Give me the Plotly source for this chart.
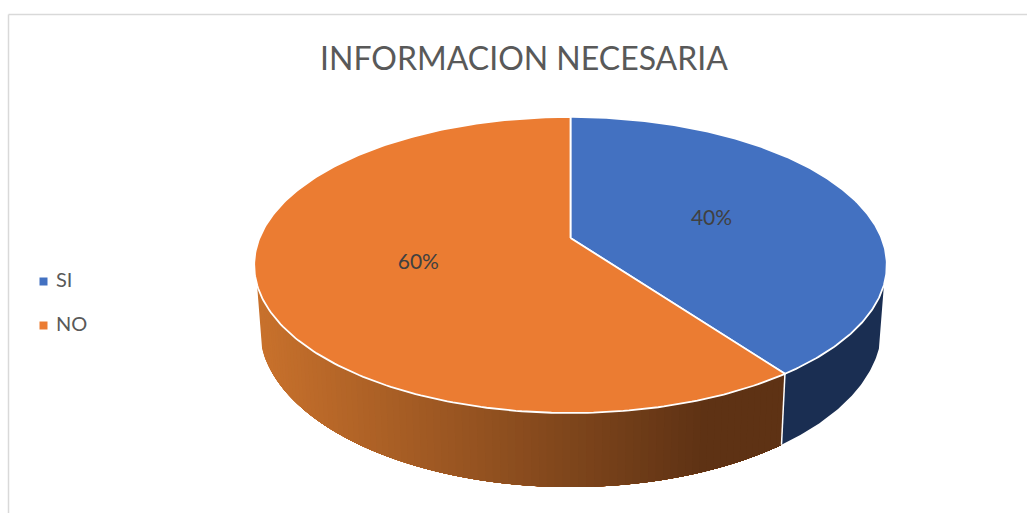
import numpy as np
import plotly.graph_objects as go

# Data
title_text = "INFORMACION NECESARIA"
categories = ["SI", "NO"]
values = [40, 60]
colors_top = ["#4371C1", "#EB7C32"]

# Page geometry: the axes span the whole page, one unit per pixel
W, H = 1027, 513
CX, K = 570.5, 0.1824
TOP = dict(c=311.0, a=-99.7, b=238.0)
BOT = dict(c=306.0, a=-100.0, b=298.2)
SIDE_LIMIT = 108.0  # degrees either side of the front where the rim is visible
GRADIENT_END_X = 700.0
FONT = "Lato, Carlito, Calibri, sans-serif"


def project(theta_deg, r=1.0, s=TOP):
    t = np.radians(theta_deg)
    u, v = r * np.sin(t), r * np.cos(t)
    w = 1 + K * v
    return CX + s["c"] * u / w, (s["a"] * v + s["b"]) / w


def lerp_colour(t, c0=(200, 113, 44), c1=(94, 50, 20)):
    t = min(max(t, 0.0), 1.0)
    return "rgb(%d,%d,%d)" % tuple(round(a + (b - a) * t) for a, b in zip(c0, c1))


angles = 360 * np.cumsum([0] + values) / sum(values)
split = angles[1]

fig = go.Figure()


def rim(t0, t1, colour):
    th = np.linspace(t0, t1, 60)
    xt, yt = project(th)
    xb, yb = project(th[::-1], s=BOT)
    fig.add_trace(go.Scatter(
        x=np.r_[xt, xb, xt[0]], y=np.r_[yt, yb, yt[0]], mode="lines", fill="toself",
        fillcolor=colour, line=dict(width=0), hoverinfo="skip", showlegend=False))


# Rim: blue part is flat; the orange part is painted left to right, each band
# reaching to the slice boundary and covered by the next, so no seams appear
rim(SIDE_LIMIT, split, "#1A2E52")
orange_edges = np.linspace(360 - SIDE_LIMIT, split, 90, endpoint=False)
xl, _ = project(360 - SIDE_LIMIT, s=BOT)
for t0 in orange_edges:
    xm, _ = project(t0, s=BOT)
    rim(split, t0, lerp_colour((xm - xl) / (GRADIENT_END_X - xl)))

# White seam on the rim at the slice boundary
x0, y0 = project(split)
x1, y1 = project(split, s=BOT)
fig.add_trace(go.Scatter(x=[x0, x1], y=[y0, y1], mode="lines",
                         line=dict(color="white", width=1.5),
                         hoverinfo="skip", showlegend=False))

# Top slices
for i, name in enumerate(categories):
    th = np.linspace(angles[i], angles[i + 1], 240)
    xs, ys = project(th)
    xc, yc = project(0.0, 0.0)
    fig.add_trace(go.Scatter(
        x=np.r_[xc, xs, xc], y=np.r_[yc, ys, yc], mode="lines", fill="toself",
        fillcolor=colors_top[i], line=dict(color="white", width=1.8),
        name=name, hoverinfo="skip", showlegend=False))

# Percentage labels
label_r = [0.49, 0.50]
label_dy = 2.5
for i, v in enumerate(values):
    lx, ly = project((angles[i] + angles[i + 1]) / 2, label_r[i])
    fig.add_trace(go.Scatter(
        x=[lx], y=[ly + label_dy], mode="text", text=[f"{v / sum(values):.0%}"],
        textposition="middle center", textfont=dict(family=FONT, size=21, color="#404040"),
        hoverinfo="skip", showlegend=False))

# Key
key_x, key_y, key_step, key_gap = 43.5, 281.5, 44, 12.5
for i, name in enumerate(categories):
    yk = key_y + i * key_step
    fig.add_trace(go.Scatter(
        x=[key_x], y=[yk], mode="markers",
        marker=dict(symbol="square", size=8, color=colors_top[i], line=dict(width=0)),
        hoverinfo="skip", showlegend=False))
    fig.add_trace(go.Scatter(
        x=[key_x + key_gap], y=[yk], mode="text", text=[name],
        textposition="middle right",
        textfont=dict(family=FONT, size=20, color="#595959"),
        hoverinfo="skip", showlegend=False))

# Chart frame: only the top and left edges show in the crop
frame = dict(color="#D9D9D9", width=1.5)
shapes = [
    dict(type="line", x0=8.5, x1=W, y0=14.5, y1=14.5, line=frame),
    dict(type="line", x0=8.5, x1=8.5, y0=14.5, y1=H, line=frame),
]

fig.update_layout(
    width=W, height=H, margin=dict(l=0, r=0, t=0, b=0), autosize=False,
    paper_bgcolor="white", plot_bgcolor="white", showlegend=False, shapes=shapes,
    title=dict(text=title_text, x=524 / W, xref="paper", xanchor="center",
               y=1 - 59 / H, yref="paper", yanchor="middle",
               font=dict(family=FONT, size=32, color="#595959")),
    xaxis=dict(range=[0, W], visible=False, fixedrange=True),
    yaxis=dict(range=[H, 0], visible=False, fixedrange=True),
)

fig.write_html("out.html", config=dict(displayModeBar=False),
               post_script="document.body.style.margin='0';document.documentElement.style.overflow='hidden';")
